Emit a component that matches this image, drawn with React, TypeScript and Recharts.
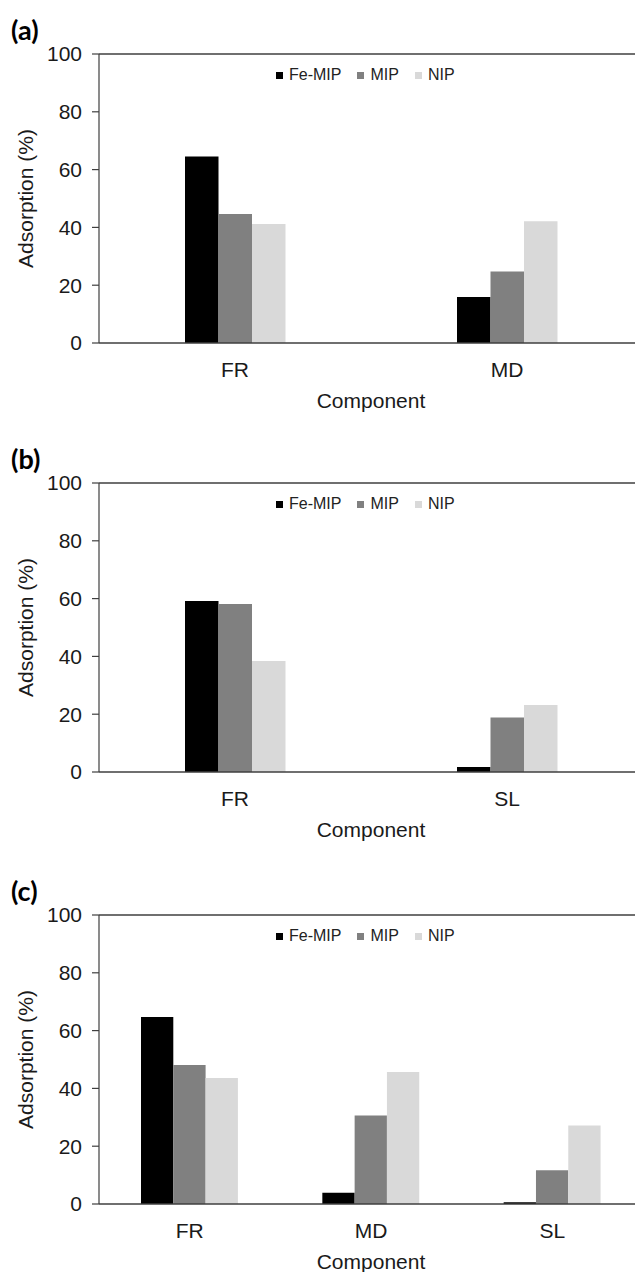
import { BarChart, Bar, XAxis, YAxis, Legend, ReferenceLine } from 'recharts';

const FONT = '"Liberation Sans", Arial, sans-serif';

const seriesNames = ['Fe-MIP', 'MIP', 'NIP'];
const seriesColors = ['#000000', '#808080', '#d9d9d9'];
const yTicks = [0, 20, 40, 60, 80, 100];

// (a)
const componentsA = ['FR', 'MD'];
const feMipA = [64.5, 15.9];
const mipA = [44.6, 24.7];
const nipA = [41.2, 42.1];

// (b)
const componentsB = ['FR', 'SL'];
const feMipB = [59.2, 1.7];
const mipB = [58.1, 18.9];
const nipB = [38.4, 23.2];

// (c)
const componentsC = ['FR', 'MD', 'SL'];
const feMipC = [64.7, 3.9, 0.6];
const mipC = [48.1, 30.6, 11.7];
const nipC = [43.6, 45.7, 27.2];

const PLOT_TOP = 54;
const PLOT_HEIGHT = 289;
const CHART_WIDTH = 643;
const CHART_HEIGHT = 418;
const AXIS_COLOR = '#3f3f3f';

const buildRows = (names: string[], feMip: number[], mip: number[], nip: number[]) =>
    names.map((name, i) => ({ name, 'Fe-MIP': feMip[i], MIP: mip[i], NIP: nip[i] }));

const renderLegend = () => (
    <div
        style={{
            display: 'flex',
            alignItems: 'center',
            fontFamily: FONT,
            fontSize: 16,
            lineHeight: '16px',
            color: '#222',
            whiteSpace: 'nowrap',
        }}
    >
        {seriesNames.map((name, i) => (
            <div key={name} style={{ display: 'flex', alignItems: 'center', marginRight: 16 }}>
                <span
                    style={{
                        display: 'inline-block',
                        width: 7,
                        height: 7,
                        background: seriesColors[i],
                        marginRight: 6,
                    }}
                />
                {name}
            </div>
        ))}
    </div>
);

interface PanelProps {
    tag: string;
    top: number;
    rows: Record<string, any>[];
    barSize: number;
}

const Panel = ({ tag, top, rows, barSize }: PanelProps) => (
    <div style={{ position: 'absolute', left: 0, top, width: CHART_WIDTH, height: CHART_HEIGHT }}>
        <BarChart
            width={CHART_WIDTH}
            height={CHART_HEIGHT}
            data={rows}
            barGap={0}
            margin={{ top: PLOT_TOP, right: 0, bottom: CHART_HEIGHT - PLOT_TOP - PLOT_HEIGHT - 75, left: 0 }}
        >
            <XAxis
                dataKey="name"
                height={75}
                tickLine={false}
                tickSize={0}
                tickMargin={19}
                axisLine={{ stroke: AXIS_COLOR, strokeWidth: 1.5 }}
                tick={{ fontFamily: FONT, fontSize: 21, fill: '#1a1a1a' }}
                label={{
                    value: 'Component',
                    position: 'insideTop',
                    offset: 50,
                    fontFamily: FONT,
                    fontSize: 21,
                    fill: '#1a1a1a',
                }}
            />
            <YAxis
                width={99}
                domain={[0, 100]}
                ticks={yTicks}
                interval={0}
                tickSize={7}
                tickMargin={10}
                axisLine={{ stroke: AXIS_COLOR, strokeWidth: 1.2 }}
                tickLine={{ stroke: AXIS_COLOR, strokeWidth: 1.2 }}
                tick={{ fontFamily: FONT, fontSize: 21, fill: '#1a1a1a' }}
                label={{
                    value: 'Adsorption (%)',
                    angle: -90,
                    position: 'insideLeft',
                    offset: 26,
                    fontFamily: FONT,
                    fontSize: 21,
                    fill: '#1a1a1a',
                    style: { textAnchor: 'middle' },
                }}
            />
            <ReferenceLine y={100} stroke={AXIS_COLOR} strokeWidth={1.5} />
            <Legend
                content={renderLegend}
                layout="horizontal"
                align="center"
                verticalAlign="middle"
                wrapperStyle={{ top: PLOT_TOP + 13, left: 276, width: 'auto', height: 16 }}
            />
            {seriesNames.map((name, i) => (
                <Bar
                    key={name}
                    dataKey={name}
                    fill={seriesColors[i]}
                    barSize={barSize}
                    isAnimationActive={false}
                />
            ))}
        </BarChart>
        <div
            style={{
                position: 'absolute',
                left: 11,
                top: 15,
                fontFamily: 'Lato, "Open Sans", sans-serif',
                fontWeight: 700,
                fontSize: 27,
                lineHeight: '30px',
                color: '#000',
            }}
        >
            {tag}
        </div>
    </div>
);

export default function App() {
    return (
        <div
            style={{
                position: 'absolute',
                left: 0,
                top: 0,
                width: 635,
                height: 1272,
                overflow: 'hidden',
                background: '#fff',
            }}
        >
            <Panel tag="(a)" top={0} rows={buildRows(componentsA, feMipA, mipA, nipA)} barSize={33.5} />
            <Panel tag="(b)" top={429} rows={buildRows(componentsB, feMipB, mipB, nipB)} barSize={33.5} />
            <Panel tag="(c)" top={861} rows={buildRows(componentsC, feMipC, mipC, nipC)} barSize={32.3} />
        </div>
    );
}
